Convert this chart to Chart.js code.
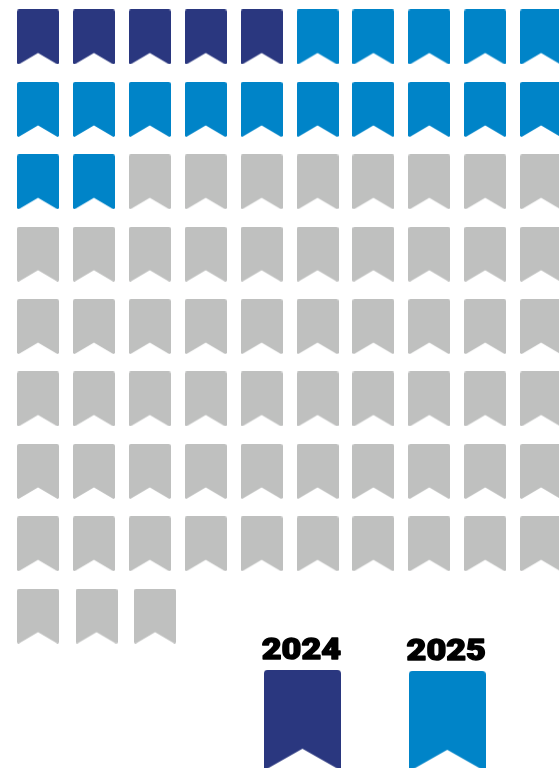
<!DOCTYPE html>
<html lang="en">
<head>
    <meta charset="UTF-8">
    <script src="https://cdn.jsdelivr.net/npm/chart.js@4"></script>
    <title>Icon chart</title>
    <style>
        html, body { margin: 0; padding: 0; background: #fff; }
        canvas { display: block; }
    </style>
</head>
<body>
<canvas id="container" width="559" height="768"></canvas>

<script>
    // icons per category
    const categories = ['2024', '2025', 'Other'];
    const counts = [5, 17, 61];
    const colors = ['#2a377f', '#0084c8', '#bfc0bf'];
    const perRow = 10;
    const legendLabels = ['2024', '2025'];
    const legendCols = [4.73, 7.32];
    const legendRows = [9.43, 9.445];

    // one bookmark shape, used as point image
    function bookmark(w, h, color) {
        const c = document.createElement('canvas');
        c.width = w;
        c.height = h;
        const g = c.getContext('2d');
        const r = w * 0.05;
        g.fillStyle = color;
        g.beginPath();
        g.moveTo(0, r);
        g.arcTo(0, 0, r, 0, r);
        g.lineTo(w - r, 0);
        g.arcTo(w, 0, w, r, r);
        g.lineTo(w, h - 1);
        g.lineTo(w - 1.5, h);
        g.lineTo(w / 2, h * 0.79);
        g.lineTo(1.5, h);
        g.lineTo(0, h - 1);
        g.closePath();
        g.fill();
        return c;
    }

    // walk the grid, the last row is spaced a little wider
    const total = counts.reduce((a, b) => a + b, 0);
    const lastRow = Math.floor((total - 1) / perRow);
    let n = 0;
    const datasets = categories.map((name, i) => {
        const data = [];
        for (let k = 0; k < counts[i]; k++) {
            const row = Math.floor(n / perRow);
            const col = n % perRow;
            data.push({x: row === lastRow ? col * 1.047 : col, y: row});
            n++;
        }
        return {
            label: name,
            data: data,
            pointStyle: bookmark(42, 55, colors[i]),
            clip: false
        };
    });

    legendLabels.forEach((name, i) => {
        datasets.push({
            label: name,
            data: [{x: legendCols[i], y: legendRows[i]}],
            pointStyle: bookmark(77, 100, colors[i]),
            clip: false
        });
    });

    // year labels above the two big icons, stretched to the wide heavy look
    const yearLabels = {
        id: 'yearLabels',
        afterDatasetsDraw(chart) {
            const ctx = chart.ctx;
            legendLabels.forEach((name, i) => {
                const x = chart.scales.x.getPixelForValue(legendCols[i]) - 1;
                const y = chart.scales.y.getPixelForValue(legendRows[i]) - 61;
                ctx.save();
                ctx.translate(x, y);
                ctx.scale(1.14, 1);
                ctx.font = '900 30px Roboto, "Liberation Sans", sans-serif';
                ctx.textAlign = 'center';
                ctx.textBaseline = 'alphabetic';
                ctx.fillStyle = '#000';
                ctx.strokeStyle = '#000';
                ctx.lineWidth = 1.4;
                ctx.lineJoin = 'round';
                ctx.fillText(name, 0, 0);
                ctx.strokeText(name, 0, 0);
                ctx.restore();
            });
        }
    };

    const ctx = document.getElementById('container').getContext('2d');
    new Chart(ctx, {
        type: 'scatter',
        data: {datasets: datasets},
        plugins: [yearLabels],
        options: {
            responsive: false,
            animation: false,
            devicePixelRatio: 1,
            layout: {padding: 0, autoPadding: false},
            plugins: {legend: {display: false}, tooltip: {enabled: false}},
            scales: {
                x: {type: 'linear', display: false, min: -0.68, max: 9.32},
                y: {type: 'linear', display: false, reverse: true, min: -0.511, max: 10.097}
            }
        }
    });
</script>
</body>
</html>
